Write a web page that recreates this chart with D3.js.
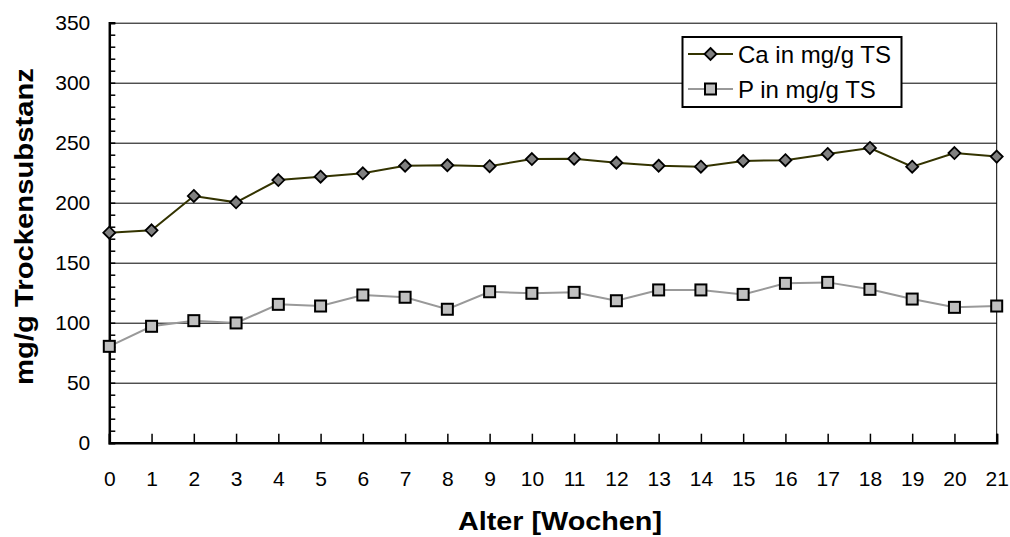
<!DOCTYPE html>
<html>
<head>
<meta charset="utf-8">
<script src="https://cdn.jsdelivr.net/npm/d3@7"></script>
<style>
  body { margin: 0; background: #fff; }
  svg { display: block; font-family: "Liberation Sans", Arial, sans-serif; }
</style>
</head>
<body>
<svg></svg>
<script>
const weeks = d3.range(0, 22);
const ca = [175, 177, 205.6, 200.3, 218.9, 221.7, 224.5, 230.8, 231.2, 230.4, 236.4, 236.7,
            233.3, 230.8, 230, 234.8, 235.4, 240.6, 245.6, 230, 241.4, 238.4];
const p = [80.3, 97, 101.7, 99.8, 115.3, 113.9, 123.1, 121.2, 111.2, 125.8, 124.5, 125.3,
           118.3, 127.3, 127.3, 123.6, 132.8, 133.6, 127.8, 119.7, 112.8, 113.9];
const yTicks = [0, 50, 100, 150, 200, 250, 300, 350];
const seriesNames = ["Ca in mg/g TS", "P in mg/g TS"];

const width = 1010, height = 537;
const margin = { left: 109.3, right: 13.3, top: 22.7, bottom: 94.3 };

const svg = d3.select("svg").attr("width", width).attr("height", height);

const x_scale = d3.scaleLinear().domain([0, 21]).range([margin.left, width - margin.right]);
const y_scale = d3.scaleLinear().domain([0, 350]).range([height - margin.bottom, margin.top]);

// gridlines + y labels
const y_axis = d3.axisLeft(y_scale)
  .tickValues(yTicks)
  .tickSize(-(width - margin.left - margin.right))
  .tickPadding(19);

svg.append("g")
  .attr("transform", `translate(${margin.left},0)`)
  .call(y_axis)
  .call(g => g.select(".domain").remove())
  .call(g => g.selectAll("line").attr("stroke", "#000").attr("stroke-width", 1))
  .call(g => g.selectAll("text").attr("font-size", 21).attr("fill", "#000"));

// minor ticks on y axis
svg.append("g")
  .attr("transform", `translate(${margin.left},0)`)
  .call(d3.axisLeft(y_scale).tickValues(d3.range(0, 351, 10)).tickSize(-6).tickFormat(""))
  .call(g => g.select(".domain").attr("stroke-width", 2.5))
  .call(g => g.selectAll("line").attr("stroke", "#000").attr("stroke-width", 1.5));

// right border
svg.append("line")
  .attr("x1", x_scale(21)).attr("x2", x_scale(21))
  .attr("y1", y_scale(350)).attr("y2", y_scale(0))
  .attr("stroke", "#000").attr("stroke-width", 1);

// x axis
const x_axis = d3.axisBottom(x_scale)
  .tickValues(weeks)
  .tickSize(-9)
  .tickPadding(28);

svg.append("g")
  .attr("transform", `translate(0,${y_scale(0)})`)
  .call(x_axis)
  .call(g => g.select(".domain").attr("stroke-width", 2.5))
  .call(g => g.selectAll("line").attr("stroke", "#000").attr("stroke-width", 1.5))
  .call(g => g.selectAll("text").attr("font-size", 21).attr("fill", "#000"));

// lines
const line_generator = (vals) => d3.line()
  .x((d, i) => x_scale(weeks[i]))
  .y((d) => y_scale(d))(vals);

svg.append("path")
  .attr("fill", "none")
  .attr("stroke", "#999999")
  .attr("stroke-width", 2)
  .attr("d", line_generator(p));

svg.append("path")
  .attr("fill", "none")
  .attr("stroke", "#333300")
  .attr("stroke-width", 2)
  .attr("d", line_generator(ca));

const diamond = (g, cx, cy) => g.append("path")
  .attr("d", `M${cx},${cy - 6}L${cx + 6},${cy}L${cx},${cy + 6}L${cx - 6},${cy}Z`)
  .attr("fill", "#808080").attr("stroke", "#000").attr("stroke-width", 1.8);

const square = (g, cx, cy) => g.append("rect")
  .attr("x", cx - 5.5).attr("y", cy - 5.5).attr("width", 11).attr("height", 11)
  .attr("fill", "#c0c0c0").attr("stroke", "#000").attr("stroke-width", 2);

const markers = svg.append("g");
p.forEach((v, i) => square(markers, x_scale(weeks[i]), y_scale(v)));
ca.forEach((v, i) => diamond(markers, x_scale(weeks[i]), y_scale(v)));

// legend
const legend = svg.append("g");
legend.append("rect")
  .attr("x", 682.5).attr("y", 37).attr("width", 219).attr("height", 70)
  .attr("fill", "#fff").attr("stroke", "#000").attr("stroke-width", 2);

const rows = [
  { name: seriesNames[0], y: 54, color: "#333300", mark: diamond },
  { name: seriesNames[1], y: 89, color: "#999999", mark: square }
];
rows.forEach(r => {
  legend.append("line")
    .attr("x1", 688).attr("x2", 733).attr("y1", r.y).attr("y2", r.y)
    .attr("stroke", r.color).attr("stroke-width", 2);
  r.mark(legend, 710.5, r.y);
  legend.append("text")
    .attr("x", 738).attr("y", r.y).attr("dy", "0.36em")
    .attr("font-size", 24)
    .text(r.name);
});

// axis titles
svg.append("text")
  .attr("x", 560).attr("y", 530)
  .attr("text-anchor", "middle")
  .attr("font-size", 25).attr("font-weight", "bold")
  .attr("textLength", 204).attr("lengthAdjust", "spacingAndGlyphs")
  .text("Alter [Wochen]");

svg.append("text")
  .attr("transform", "translate(33,226.5) rotate(-90)")
  .attr("text-anchor", "middle")
  .attr("font-size", 25).attr("font-weight", "bold")
  .attr("textLength", 317).attr("lengthAdjust", "spacingAndGlyphs")
  .text("mg/g Trockensubstanz");
</script>
</body>
</html>
